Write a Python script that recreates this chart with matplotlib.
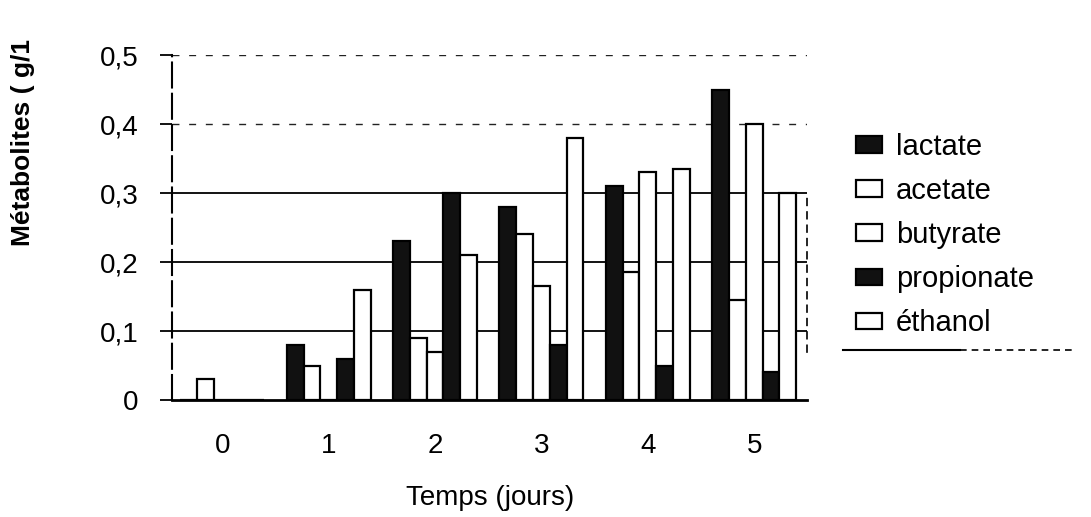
import matplotlib
matplotlib.use('Agg')
import matplotlib.pyplot as plt
from matplotlib.patches import Patch
from matplotlib.lines import Line2D
import numpy as np

plt.rcParams['font.family'] = ['Liberation Sans', 'DejaVu Sans']

# production of metabolites (g/l) over the fermentation
days = [0, 1, 2, 3, 4, 5]
lactate = [0, 0.08, 0.23, 0.28, 0.31, 0.45]
acetate = [0.03, 0.05, 0.09, 0.24, 0.185, 0.145]
butyrate = [0, 0, 0.07, 0.165, 0.33, 0.40]
propionate = [0, 0.06, 0.30, 0.08, 0.05, 0.04]
ethanol = [0, 0.16, 0.21, 0.38, 0.335, 0.30]

names = ['lactate', 'acetate', 'butyrate', 'propionate', 'éthanol']
series = [lactate, acetate, butyrate, propionate, ethanol]
fills = ['#111111', 'white', 'white', '#111111', 'white']

yticks = [0, 0.1, 0.2, 0.3, 0.4, 0.5]
ytick_labels = ['0', '0,1', '0,2', '0,3', '0,4', '0,5']


fig = plt.figure(figsize=(10.91, 5.17), dpi=100)
ax = fig.add_axes([0.158, 0.2263, 0.582, 0.6673])

x = np.array(days)
w = 0.158
for i, (vals, fc) in enumerate(zip(series, fills)):
	ax.bar(x + (i - 2) * w, vals, width=w, facecolor=fc, edgecolor='black',
		   linewidth=1.6, zorder=3)

# horizontal grid: solid low lines, faded dashed ones at the top
for y in yticks[1:]:
	if y < 0.35:
		ax.axhline(y, color='black', lw=1.3, zorder=1)
	else:
		ax.axhline(y, color='#222222', lw=1.0, ls=(0, (5, 7)), zorder=1)

ax.set_xlim(-0.47, 5.5)
ax.set_ylim(0, 0.5)
ax.set_xticks(days)
ax.set_xticklabels([str(d) for d in days])
ax.set_yticks(yticks)
ax.set_yticklabels(ytick_labels)
ax.tick_params(axis='x', length=0, pad=24, labelsize=20)
ax.tick_params(axis='y', length=8.6, width=1.3, pad=16, labelsize=20, direction='out')

ax.spines['top'].set_visible(False)
ax.spines['bottom'].set_linewidth(2)
ax.spines['left'].set_linewidth(1.5)
ax.spines['left'].set_linestyle((0, (12, 3)))
ax.spines['right'].set_linestyle((0, (4, 4)))
ax.spines['right'].set_linewidth(1.2)
ax.spines['right'].set_bounds(0.07, 0.3)

fig.text(0.449, 0.036, 'Temps (jours)', ha='center', va='center', fontsize=20)
fig.text(0.021, 0.725, 'Métabolites ( g/1', rotation=90, ha='center', va='center',
		 fontsize=19, fontweight='bold')

handles = [Patch(facecolor=fc, edgecolor='black', linewidth=1.6) for fc in fills]
fig.legend(handles, names, loc='upper left', bbox_to_anchor=(0.785, 0.743),
		   frameon=False, fontsize=21, handlelength=0.86, handleheight=0.48,
		   handletextpad=0.5, labelspacing=0.55, borderpad=0, borderaxespad=0)

# rule under the legend
fig.add_artist(Line2D([0.773, 0.88], [0.323, 0.323], color='black', lw=1.5))
fig.add_artist(Line2D([0.88, 0.985], [0.323, 0.323], color='black', lw=1.2, ls=(0, (4, 3))))

fig.savefig('out.png', dpi=100)
